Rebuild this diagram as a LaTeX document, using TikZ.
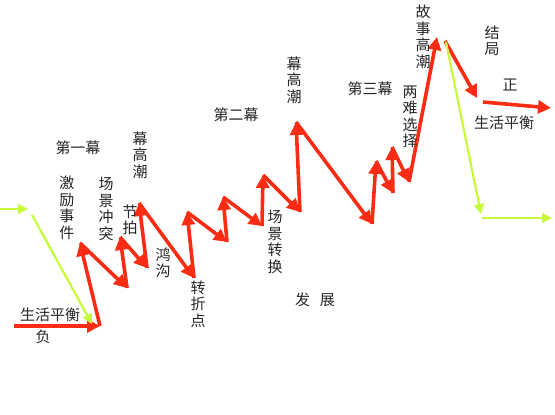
\documentclass[tikz,border=0pt]{standalone}
\usepackage{fontspec}
\newfontfamily\cjk{Noto Sans CJK SC}
\usetikzlibrary{arrows.meta}
\definecolor{plotred}{RGB}{250,45,20}
\definecolor{plotgreen}{RGB}{200,250,60}
\tikzset{
  redarr/.style={plotred, line width=3.6pt, -{Triangle[length=13pt,width=13pt]}},
  greenarr/.style={plotgreen, line width=2.2pt, -{Triangle[length=10pt,width=10pt]}},
  lbl/.style={font=\cjk\fontsize{15}{16.5}\selectfont, text=black!85, inner sep=0pt, align=center},
}
\begin{document}
\begin{tikzpicture}[x=1pt,y=-1pt]
  \useasboundingbox (0,0) rectangle (555,415);
  % red plot line
  \coordinate (r0) at (14,326);
  \coordinate (r1) at (100,326);
  \coordinate (r2) at (80,243);
  \coordinate (r3) at (127,288);
  \coordinate (r4) at (120,237);
  \coordinate (r5) at (147,268);
  \coordinate (r6) at (139,203);
  \coordinate (r7) at (194,278);
  \coordinate (r8) at (187,212);
  \coordinate (r9) at (227,242);
  \coordinate (r10) at (223,197);
  \coordinate (r11) at (262,226);
  \coordinate (r12) at (263,175);
  \coordinate (r13) at (300,212);
  \coordinate (r14) at (296,122);
  \coordinate (r15) at (372,224);
  \coordinate (r16) at (376,161);
  \coordinate (r17) at (393,193);
  \coordinate (r18) at (392,147);
  \coordinate (r19) at (409,182);
  \coordinate (r20) at (437,37);
  \foreach \a [count=\b] in {0,...,19}
    \draw[redarr] (r\a) -- (r\b);
  % ending (positive)
  \coordinate (e0) at (445,41);
  \coordinate (e1) at (477,98);
  \coordinate (e2) at (483,102);
  \coordinate (e3) at (551,108);
  \draw[redarr] (e0) -- (e1);
  \draw[redarr] (e2) -- (e3);
  % green line
  \coordinate (g0) at (0,209);
  \coordinate (g1) at (28,209);
  \coordinate (g2) at (32,215);
  \coordinate (g3) at (92,324);
  \coordinate (g4) at (446,42);
  \coordinate (g5) at (481,214);
  \coordinate (g6) at (482,218);
  \coordinate (g7) at (552,218);
  \draw[greenarr] (g0) -- (g1);
  \draw[greenarr] (g2) -- (g3);
  \draw[greenarr] (g4) -- (g5);
  \draw[greenarr] (g6) -- (g7);
  % labels
  \node[lbl] (balanceL) at (50,315) {生活平衡};
  \node[lbl] (neg) at (43,337) {负};
  \node[lbl] (actone) at (78,148) {第一幕};
  \node[lbl] (incite) at (67,208) {激\\励\\事\\件};
  \node[lbl] (conflict) at (106,209) {场\\景\\冲\\突};
  \node[lbl] (climaxone) at (140,155) {幕\\高\\潮};
  \node[lbl] (beat) at (130,220) {节\\拍};
  \node[lbl] (gap) at (163,263) {鸿\\沟};
  \node[lbl] (turn) at (198,304) {转\\折\\点};
  \node[lbl] (acttwo) at (236,115) {第二幕};
  \node[lbl] (climaxtwo) at (294,80) {幕\\高\\潮};
  \node[lbl] (scene) at (275,242) {场\\景\\转\\换};
  \node[lbl] (develop) at (315,300) {发\hspace{10pt}展};
  \node[lbl] (actthree) at (370,89) {第三幕};
  \node[lbl] (dilemma) at (410,117) {两\\难\\选\\择};
  \node[lbl] (climaxstory) at (423,37) {故\\事\\高\\潮};
  \node[lbl] (ending) at (492,41) {结\\局};
  \node[lbl] (pos) at (510,85) {正};
  \node[lbl] (balanceR) at (504,123) {生活平衡};
\end{tikzpicture}
\end{document}
